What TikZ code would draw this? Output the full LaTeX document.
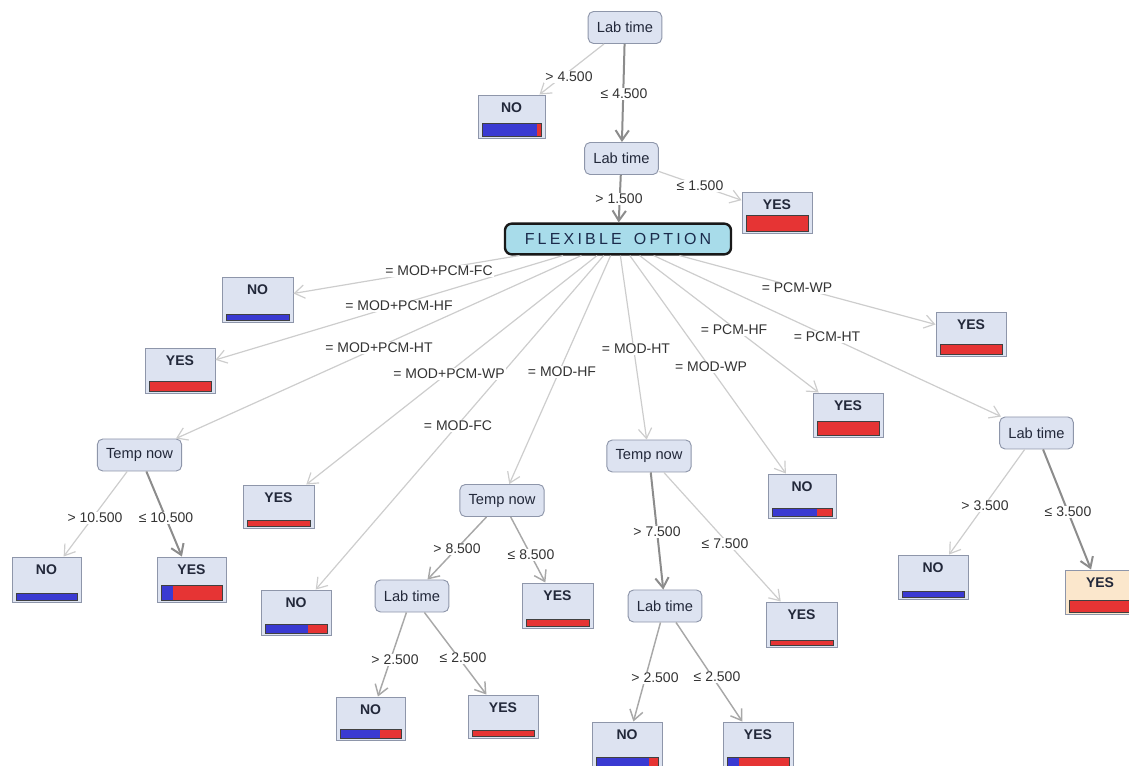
\documentclass[tikz,border=0pt]{standalone}
\usepackage{fontspec}
\setmainfont{Liberation Sans}
\usetikzlibrary{arrows.meta,calc}
\definecolor{nodefill}{HTML}{DDE3F1}
\definecolor{nodedraw}{HTML}{8E96AA}
\definecolor{flexfill}{HTML}{A8DCEA}
\definecolor{peach}{HTML}{FBE7CC}
\definecolor{barblue}{HTML}{3A3AD2}
\definecolor{barred}{HTML}{E63434}
\definecolor{edgelight}{HTML}{CDCDCD}
\definecolor{edgemid}{HTML}{A8A8A8}
\definecolor{edgedark}{HTML}{8C8C8C}
\definecolor{labtext}{HTML}{333333}
\definecolor{flextext}{HTML}{1B2B4B}
\definecolor{nodetext}{HTML}{22283A}
\newcommand\lsp{\hspace{2.4pt}}
\newcommand\leaf[9]{%
  \node[leafbox, fill=#9, minimum width={#4*0.75pt}, minimum height={#5*0.75pt}] (#1) at (#2,#3) {};
  \node[leaftext] (#1-t) at ($(#1.north)+(0,13)$) {#6};
  \fill[barblue] ({#2-#4/2+4},{#3+#5/2-2}) rectangle ({#2-#4/2+4+(#4-8)*#7},{#3+#5/2-2-#8});
  \fill[barred] ({#2-#4/2+4+(#4-8)*#7},{#3+#5/2-2}) rectangle ({#2+#4/2-4},{#3+#5/2-2-#8});
  \draw[baredge] ({#2-#4/2+4},{#3+#5/2-2}) rectangle ({#2+#4/2-4},{#3+#5/2-2-#8});
}
\begin{document}
\begin{tikzpicture}[x=0.75pt,y=-0.75pt,
  leafbox/.style={draw=nodedraw, line width=0.7pt, rectangle, inner sep=0pt},
  leaftext/.style={font=\bfseries\fontsize{10.5}{12}\selectfont, text=nodetext, inner sep=0pt},
  baredge/.style={draw=black!75, line width=0.6pt},
  inode/.style={draw=nodedraw, fill=nodefill, line width=0.7pt, rounded corners=4pt,
    font=\fontsize{11}{13}\selectfont, text=nodetext, inner xsep=6.5pt, inner ysep=0pt,
    minimum height=24pt},
  flexbox/.style={draw=black!90, fill=flexfill, line width=1.8pt, rounded corners=5pt,
    font=\fontsize{12}{14}\selectfont, text=flextext, minimum width=169.5pt,
    minimum height=23pt, inner sep=0pt},
  elabel/.style={font=\fontsize{10.5}{12}\selectfont, text=labtext, fill=white, inner sep=1pt},
  tip/.style={-{Straight Barb[length=7.5pt,width=10pt]}},
  el/.style={tip, draw=edgelight, line width=0.9pt},
  em/.style={tip, draw=edgemid, line width=1.1pt},
  ed/.style={tip, draw=edgedark, line width=1.5pt},
]
\useasboundingbox (0,0) rectangle (1129,766);
\clip (0,0) rectangle (1129,766);

% internal nodes
\node[inode] (lt1) at (625,27.5) {Lab time};
\node[inode] (lt2) at (621.5,158.5) {Lab time};
\node[flexbox] (flex) at (618,239) {F\lsp L\lsp E\lsp X\lsp I\lsp B\lsp L\lsp E\hspace{9pt}O\lsp P\lsp T\lsp I\lsp O\lsp N};
\node[inode] (tn1) at (139.5,455) {Temp now};
\node[inode] (tn2) at (502,500.5) {Temp now};
\node[inode] (lt3) at (412,596) {Lab time};
\node[inode] (tn3) at (649,456) {Temp now};
\node[inode] (lt4) at (665,606) {Lab time};
\node[inode] (lt5) at (1036.5,433) {Lab time};

% leaves: name, x, y, w, h, text, blue fraction, bar height, fill
\leaf{no1}{511.5}{116.5}{67}{43}{NO}{0.93}{13}{nodefill}
\leaf{yes1}{777}{212.5}{70}{41}{YES}{0}{16}{nodefill}
\leaf{no2}{257.5}{299.5}{71}{45}{NO}{1}{6}{nodefill}
\leaf{yes2}{180}{370.5}{70}{45}{YES}{0}{10}{nodefill}
\leaf{yes3}{278.5}{506.5}{71}{43}{YES}{0}{6}{nodefill}
\leaf{no5}{46.5}{579.5}{69}{45}{NO}{1}{7}{nodefill}
\leaf{yes6}{191.5}{579.5}{69}{45}{YES}{0.2}{15}{nodefill}
\leaf{no3}{296}{612.5}{70}{45}{NO}{0.7}{9}{nodefill}
\leaf{yes7}{557.5}{605.5}{71}{45}{YES}{0}{7}{nodefill}
\leaf{no4}{802}{496}{68}{44}{NO}{0.75}{8}{nodefill}
\leaf{yes9}{801.5}{624.5}{71}{45}{YES}{0}{5}{nodefill}
\leaf{yes4}{848}{415}{70}{44}{YES}{0}{14}{nodefill}
\leaf{yes5}{971}{334}{70}{44}{YES}{0}{10}{nodefill}
\leaf{no8}{933}{577}{70}{44}{NO}{1}{6}{nodefill}
\leaf{yes11}{1100}{592}{70}{44}{YES}{0}{12}{peach}
\leaf{no6}{370.5}{718.5}{69}{43}{NO}{0.65}{9}{nodefill}
\leaf{yes8}{503}{716.5}{70}{43}{YES}{0}{6}{nodefill}
\leaf{no7}{627}{745}{70}{46}{NO}{0.85}{9}{nodefill}
\leaf{yes10}{758}{745}{70}{46}{YES}{0.2}{9}{nodefill}

% connectors
\draw[el] (lt1) -- (no1);
\draw[ed] (lt1) -- (lt2);
\draw[ed] (lt2) -- (flex);
\draw[el] (lt2) -- (yes1);
\draw[el] (flex) -- (no2);
\draw[el] (flex) -- (yes2);
\draw[el] (flex) -- (tn1);
\draw[el] (flex) -- (yes3);
\draw[el] (flex) -- (no3);
\draw[el] (flex) -- (tn2);
\draw[el] (flex) -- (tn3);
\draw[el] (flex) -- (no4);
\draw[el] (flex) -- (yes4);
\draw[el] (flex) -- (lt5);
\draw[el] (flex) -- (yes5);
\draw[el] (tn1) -- (no5);
\draw[ed] (tn1) -- (yes6);
\draw[em] (tn2) -- (lt3);
\draw[em] (tn2) -- (yes7);
\draw[em] (lt3) -- (no6);
\draw[em] (lt3) -- (yes8);
\draw[ed] (tn3) -- (lt4);
\draw[el] (tn3) -- (yes9);
\draw[em] (lt4) -- (no7);
\draw[em] (lt4) -- (yes10);
\draw[el] (lt5) -- (no8);
\draw[ed] (lt5) -- (yes11);

% connector labels
\node[elabel] (l1) at (569,77) {> 4.500};
\node[elabel] (l2) at (624,94) {≤ 4.500};
\node[elabel] (l3) at (619,199) {> 1.500};
\node[elabel] (l4) at (700,186) {≤ 1.500};
\node[elabel] (l5) at (439,271) {= MOD+PCM-FC};
\node[elabel] (l6) at (399,306) {= MOD+PCM-HF};
\node[elabel] (l7) at (379,348) {= MOD+PCM-HT};
\node[elabel] (l8) at (449,374) {= MOD+PCM-WP};
\node[elabel] (l9) at (562,372) {= MOD-HF};
\node[elabel] (l10) at (458,426) {= MOD-FC};
\node[elabel] (l11) at (636,349) {= MOD-HT};
\node[elabel] (l12) at (711,367) {= MOD-WP};
\node[elabel] (l13) at (734,330) {= PCM-HF};
\node[elabel] (l14) at (827,337) {= PCM-HT};
\node[elabel] (l15) at (797,288) {= PCM-WP};
\node[elabel] (l16) at (95,518) {> 10.500};
\node[elabel] (l17) at (166,518) {≤ 10.500};
\node[elabel] (l18) at (457,549) {> 8.500};
\node[elabel] (l19) at (531,555) {≤ 8.500};
\node[elabel] (l20) at (657,532) {> 7.500};
\node[elabel] (l21) at (725,544) {≤ 7.500};
\node[elabel] (l22) at (395,660) {> 2.500};
\node[elabel] (l23) at (463,658) {≤ 2.500};
\node[elabel] (l24) at (655,678) {> 2.500};
\node[elabel] (l25) at (717,677) {≤ 2.500};
\node[elabel] (l26) at (985,506) {> 3.500};
\node[elabel] (l27) at (1068,512) {≤ 3.500};
\end{tikzpicture}
\end{document}
